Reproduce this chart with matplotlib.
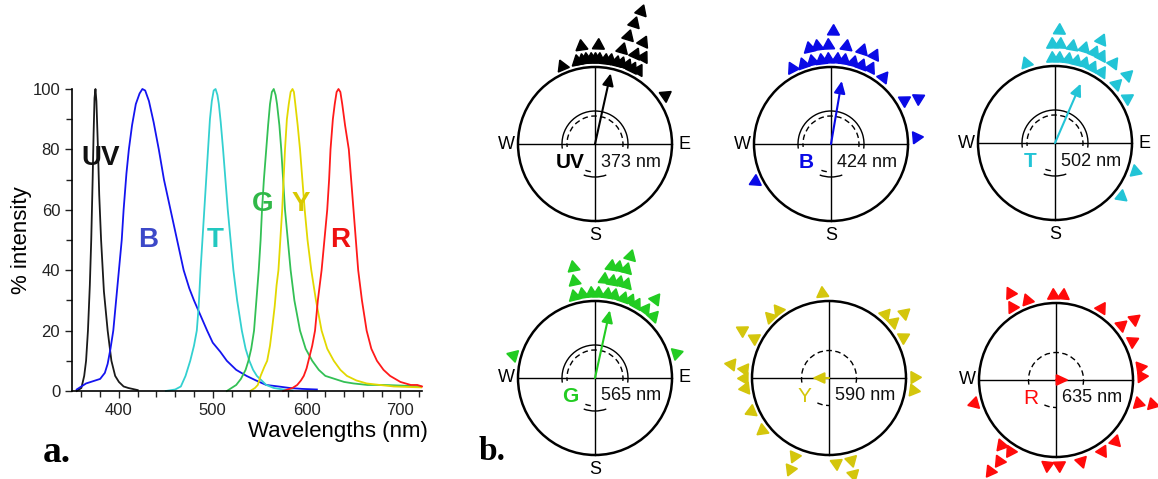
import numpy as np
import matplotlib.pyplot as plt
from matplotlib.patches import Circle, Arc

plt.rcParams['font.family'] = ['Liberation Sans', 'DejaVu Sans']

# emission spectra of the six LEDs (wavelength in nm, % of peak intensity)
uv_wl = [355, 360, 363, 365, 367, 369, 370.5, 372, 373, 374, 375, 376, 377.7, 379, 381, 384, 388, 392, 396, 400, 405, 410, 420]
uv_int = [0, 1, 5, 10, 20, 35, 50, 70, 85, 97, 100, 96, 80, 65, 50, 33, 20, 10, 5, 3, 1.5, 1, 0.3]

b_wl = [355, 360, 365, 370, 375, 380, 385, 388, 391, 394, 397, 400, 403, 405, 408, 410.6, 414, 418, 422, 425, 428, 432,
        437, 442.5, 448, 455, 462, 469, 475, 480, 487, 494, 500, 508, 515, 525, 536, 546, 557, 570, 582, 595, 611]
b_int = [0.5, 1.5, 2.5, 3, 3.5, 4, 6, 9, 14, 20, 30, 40, 50, 60, 72, 80, 88, 95, 98.5, 100, 99.5, 96,
         89, 80, 70, 60, 50, 40, 34, 30, 25, 20, 16, 13, 10, 7, 5, 3.5, 2, 1.5, 1, 0.7, 0.5]

t_wl = [450, 460, 466, 471, 476, 480, 483, 485, 487, 489, 491, 493, 495, 497, 499, 501, 503, 505, 506.5, 508.5, 511,
        513.5, 516, 519, 522, 526, 531, 535, 539, 543, 547, 552, 557, 565, 575, 585]
t_int = [0, 0.5, 1.5, 5, 10, 15, 20, 28, 40, 50, 60, 70, 80, 90, 96, 99.5, 100, 98, 95, 89, 80,
         70, 60, 50, 40, 30, 20, 14, 10, 7, 5, 3.5, 2, 1, 0.5, 0.2]

g_wl = [515, 520, 525, 530, 535, 538, 541, 544, 546.5, 549, 551, 552.5, 554.5, 557, 559, 561, 563, 565, 567, 568.5,
        571, 573, 575, 577, 580, 583, 587, 593, 599, 606, 613, 620, 630, 640, 650, 665, 682, 700, 722]
g_int = [0, 1, 2, 4, 7, 10, 14, 20, 30, 40, 50, 60, 70, 80, 88, 95, 99, 100, 98, 95,
         88, 80, 70, 60, 50, 40, 30, 20, 14, 10, 7, 5, 4, 3, 2.5, 2, 2, 1.8, 1.5]

y_wl = [540, 545, 548, 551, 555, 558, 561, 563, 566, 568, 570, 572, 574, 575.5, 577, 579, 581, 583, 585, 586.5, 588,
        590.5, 593, 595.5, 598, 601, 605, 610, 616, 622, 629, 636, 643, 653, 664, 678, 693, 722]
y_int = [0, 1, 2, 5, 8, 10, 15, 20, 28, 35, 40, 50, 60, 70, 80, 90, 95, 99, 100, 99, 95,
         88, 80, 70, 60, 50, 40, 30, 20, 14, 10, 7, 5, 3.5, 2.5, 2, 1.5, 1.2]

r_wl = [575, 580, 585, 590, 594, 597, 600, 602, 606, 609, 612, 616, 619, 622, 624, 625.5, 628, 630, 632, 634, 636, 638,
        641, 645, 647.5, 650, 652.5, 655, 659, 664, 669, 675, 682, 689, 700, 711, 718, 723]
r_int = [0, 0.5, 1, 2, 3.5, 5, 7.5, 10, 15, 20, 30, 40, 50, 60, 70, 80, 90, 95, 99, 100, 99, 95,
         88, 80, 70, 60, 50, 40, 30, 20, 14, 10, 7, 5, 3, 2, 2, 1.5]

led_names = ['UV', 'B', 'T', 'G', 'Y', 'R']
peak_nm = [373, 424, 502, 565, 590, 635]
curve_colors = ['#1a1a1a', '#1414f0', '#33d0d0', '#33c055', '#e2d800', '#ff1a1a']
letter_colors = ['#111111', '#3c48c8', '#22c8c0', '#30b848', '#d8c800', '#ee1111']
letter_x = [381, 431, 503, 553, 594, 636]
letter_y = [77, 50, 50, 62, 62, 50]

# individual headings (compass bearing, deg) and stacking row outside the circle
uv_bearing = [337, 348, 351, 354, 357, 0, 3, 7, 10, 14, 18, 22, 26, 30, 55, 352, 2, 16, 24, 29, 17, 25, 18, 19]
uv_row = [0, 0, 0, 0, 0, 0, 0, 0, 0, 0, 0, 0, 0, 0, 0, 1, 1, 1, 1, 1, 2, 2, 3, 4]
b_bearing = [333, 341, 347, 353, 358, 4, 9, 15, 21, 27, 347, 352, 358, 9, 18, 26, 1, 38, 59, 62, 85, 244]
b_row = [0, 0, 0, 0, 0, 0, 0, 0, 0, 0, 1, 1, 1, 1, 1, 1, 2, 0, 0, 1, 0, 0]
t_bearing = [340, 358, 3, 9, 14, 20, 26, 33, 358, 3, 10, 17, 23, 28, 2, 24, 36, 46, 47, 58, 109, 129]
t_row = [0, 0, 0, 0, 0, 0, 0, 0, 1, 1, 1, 1, 1, 1, 2, 2, 1, 0, 1, 0, 0, 0]
g_bearing = [346, 351, 357, 2, 8, 13, 19, 24, 29, 36, 43, 348, 5, 10, 14, 18, 37, 349, 8, 12, 16, 16, 286, 73]
g_row = [0, 0, 0, 0, 0, 0, 0, 0, 0, 0, 0, 1, 1, 1, 1, 1, 1, 2, 2, 2, 2, 3, 0, 0]
y_bearing = [355, 316, 323, 299, 298, 278, 276, 270, 263, 247, 232, 204, 203, 175, 165, 166, 89, 98, 61, 49, 41, 49]
y_row = [0, 0, 0, 1, 0, 1, 0, 0, 0, 0, 0, 0, 1, 0, 0, 1, 0, 0, 0, 0, 0, 1]
r_bearing = [358, 5, 340, 329, 332, 32, 50, 52, 63, 81, 87, 106, 104, 136, 147, 163, 178, 186, 220, 213, 215, 216, 254]
r_row = [0, 0, 0, 0, 1, 0, 0, 1, 0, 0, 0, 0, 1, 0, 0, 0, 0, 0, 0, 0, 1, 2, 0]

# mean vector of each group
mean_bearing = [12.5, 9.7, 23.4, 12.4, 270, 90]
mean_length = [0.94, 0.83, 0.84, 0.90, 0.22, 0.17]

marker_colors = ['#000000', '#0a0ae6', '#22c4d6', '#22cc22', '#d4c60c', '#ff0a0a']
compass_letters = ['WES', 'WS', 'WES', 'WES', '', 'W']

W, H = 1158, 479
fig = plt.figure(figsize=(W / 100, H / 100), dpi=100)

# ---- a. spectra ----
ax = fig.add_axes([72 / W, 1 - 391 / H, 350 / W, 302 / H])
spectra = [(uv_wl, uv_int), (b_wl, b_int), (t_wl, t_int), (g_wl, g_int), (y_wl, y_int), (r_wl, r_int)]
for (wl, val), col in zip(spectra, curve_colors):
    ax.plot(wl, val, color=col, lw=1.3, clip_on=False)
for name, x, y, col in zip(led_names, letter_x, letter_y, letter_colors):
    ax.text(x, y, name, color=col, fontsize=20, fontweight='bold', ha='center', va='center')

ax.set_xlim(350, 723)
ax.set_ylim(0, 100)
ax.spines[['top', 'right']].set_visible(False)
ax.spines[['left', 'bottom']].set_linewidth(1.2)
ax.set_xticks([400, 500, 600, 700])
ax.set_xticks(np.arange(360, 721, 20), minor=True)
ax.set_yticks(np.arange(0, 101, 20))
ax.set_yticks(np.arange(0, 101, 10), minor=True)
ax.tick_params(which='both', direction='out', width=1, labelsize=12, colors='#222222')
ax.tick_params(which='major', length=5)
ax.tick_params(which='minor', length=4)
ax.set_xlabel('Wavelengths (nm)', fontsize=16, loc='right')
ax.xaxis.set_label_coords(1.017, -0.10)
ax.set_ylabel('% intensity', fontsize=16)
ax.yaxis.set_label_coords(-0.115, 0.5)

# ---- b. circular plots, drawn in pixel units ----
bx = fig.add_axes([0, 0, 1, 1])
bx.set_xlim(0, W)
bx.set_ylim(0, H)
bx.axis('off')
bx.patch.set_alpha(0)

centers = [(595, 335), (831, 335), (1055, 336), (595, 101), (829, 101), (1056, 99)]
R0 = 77
bearings = [uv_bearing, b_bearing, t_bearing, g_bearing, y_bearing, r_bearing]
rows = [uv_row, b_row, t_row, g_row, y_row, r_row]

for i, (cx, cy) in enumerate(centers):
    col = marker_colors[i]
    bx.add_patch(Circle((cx, cy), R0, fill=False, lw=1.8, color='black'))
    bx.plot([cx - R0, cx + R0], [cy, cy], color='black', lw=1.0)
    bx.plot([cx, cx], [cy - R0, cy + R0], color='black', lw=1.0)

    # significance rings round the centre
    if i < 4:
        for t1, t2 in [(-8, 188), (250, 290)]:
            bx.add_patch(Arc((cx, cy), 66, 66, theta1=t1, theta2=t2, lw=1.0, color='black'))
        for t1, t2 in [(-6, 186), (250, 268)]:
            bx.add_patch(Arc((cx, cy), 56, 56, theta1=t1, theta2=t2, lw=1.0, color='black', ls=(0, (4, 2.5))))
    else:
        for t1, t2 in [(-10, 190), (245, 272)]:
            bx.add_patch(Arc((cx, cy), 55, 55, theta1=t1, theta2=t2, lw=1.0, color='black', ls=(0, (4, 2.5))))

    bx.text(cx - 25, cy - 18, led_names[i], color=col if i else 'black', fontsize=15,
            fontweight='bold' if i < 4 else 'normal', ha='center', va='center')
    bx.text(cx + 6, cy - 18, f'{peak_nm[i]} nm', color='#111111', fontsize=13, ha='left', va='center')

    letters = compass_letters[i]
    if 'W' in letters:
        bx.text(cx - R0 - 12, cy, 'W', fontsize=13, ha='center', va='center')
    if 'E' in letters:
        bx.text(cx + R0 + 12, cy, 'E', fontsize=13, ha='center', va='center')
    if 'S' in letters:
        bx.text(cx, cy - R0 - 14, 'S', fontsize=13, ha='center', va='center')

    # mean vector
    a = np.radians(mean_bearing[i])
    L = mean_length[i] * R0
    bx.annotate('', xy=(cx + L * np.sin(a), cy + L * np.cos(a)), xytext=(cx, cy),
                arrowprops=dict(arrowstyle='-|>,head_length=0.6,head_width=0.28', color=col, lw=1.5,
                                mutation_scale=12, shrinkA=0, shrinkB=0))

    # one triangle per individual, pointing outward
    for b, k in zip(bearings[i], rows[i]):
        rr = R0 + 8 + 14 * k
        ab = np.radians(b)
        bx.plot(cx + rr * np.sin(ab), cy + rr * np.cos(ab), ls='none',
                marker=(3, 0, -b), ms=10, color=col, mec=col)

bx.text(57, H - 452, 'a.', fontsize=27, fontweight='bold', family='Liberation Serif', ha='center', va='center')
bx.text(492, H - 452, 'b.', fontsize=24, fontweight='bold', family='Liberation Serif', ha='center', va='center')

fig.savefig('out.png', dpi=100)
